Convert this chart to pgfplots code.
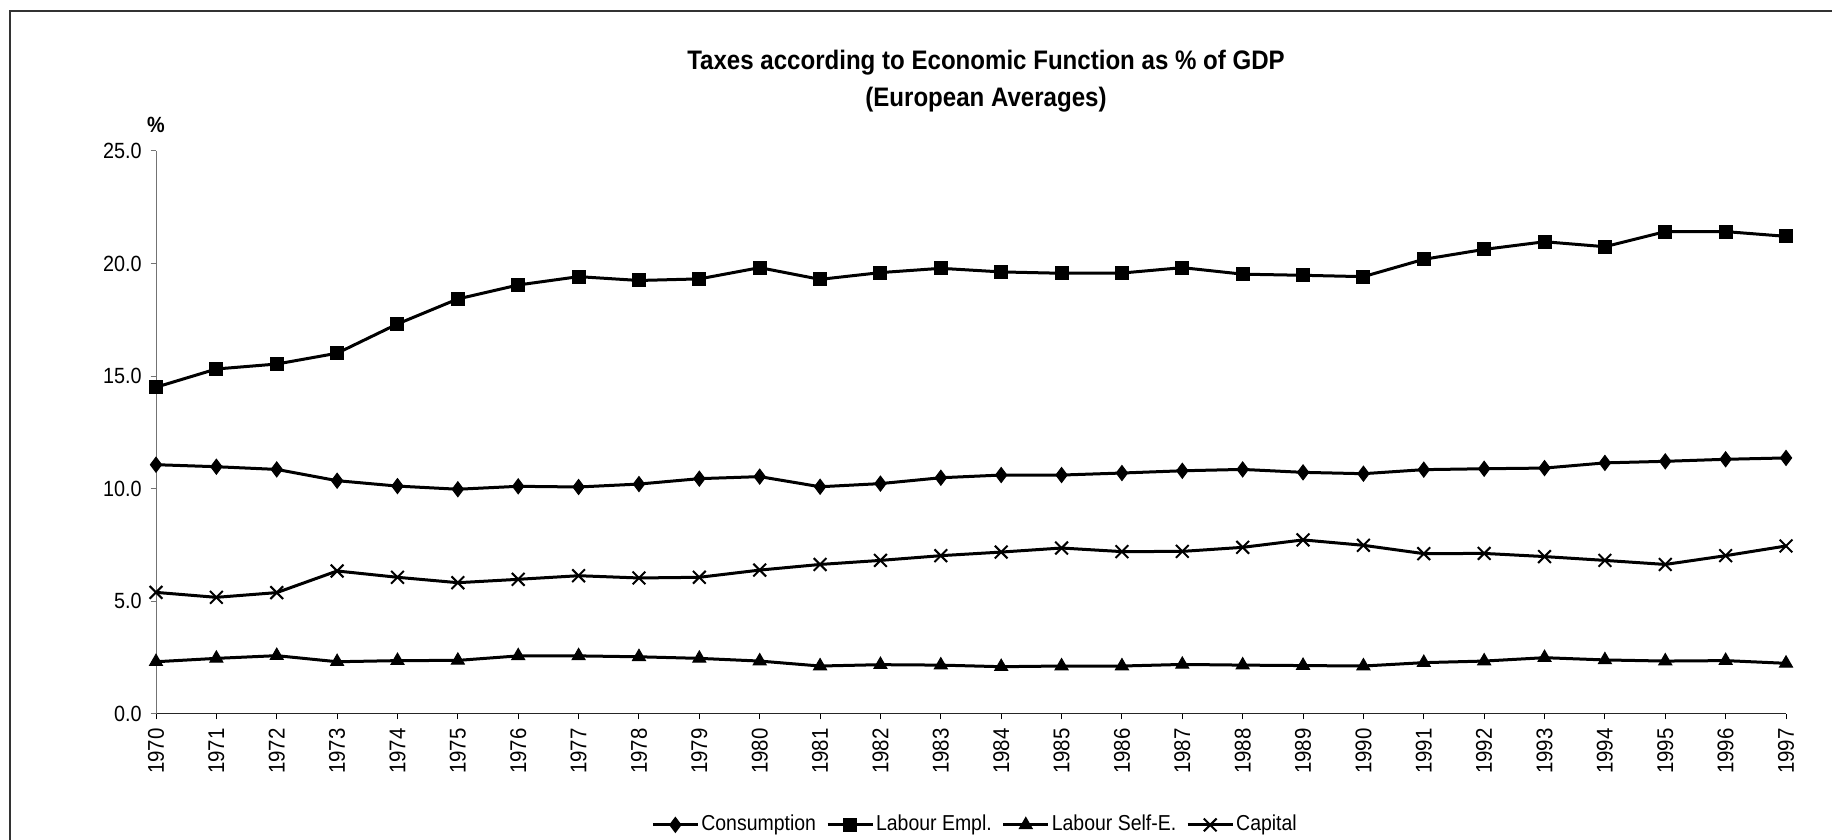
\documentclass[border=0pt]{standalone}
\usepackage{pgfplots}
\pgfplotsset{compat=1.18}
\usepackage{pgfplotstable}
\usepackage{fontspec}
\setmainfont{Liberation Sans}[FakeStretch=0.9]

\pgfplotstableread{
year cons lab self cap
1970 11.07 14.51 2.32 5.40
1971 10.98 15.32 2.47 5.18
1972 10.86 15.54 2.59 5.39
1973 10.36 16.02 2.32 6.35
1974 10.12 17.32 2.37 6.07
1975 9.98 18.43 2.38 5.83
1976 10.11 19.05 2.58 5.98
1977 10.08 19.42 2.58 6.14
1978 10.21 19.25 2.54 6.04
1979 10.45 19.32 2.47 6.07
1980 10.54 19.82 2.35 6.39
1981 10.09 19.30 2.13 6.64
1982 10.23 19.60 2.19 6.82
1983 10.49 19.79 2.17 7.03
1984 10.61 19.63 2.10 7.19
1985 10.61 19.57 2.13 7.37
1986 10.70 19.58 2.13 7.21
1987 10.80 19.82 2.20 7.22
1988 10.86 19.53 2.17 7.40
1989 10.73 19.48 2.15 7.73
1990 10.67 19.42 2.13 7.49
1991 10.85 20.19 2.28 7.12
1992 10.89 20.63 2.35 7.13
1993 10.92 20.97 2.50 6.99
1994 11.15 20.75 2.40 6.82
1995 11.22 21.42 2.35 6.64
1996 11.31 21.42 2.37 7.03
1997 11.37 21.21 2.25 7.46
}\datatable

\begin{document}
\begin{tikzpicture}
\path[use as bounding box] (0,0) rectangle (732.8pt,336pt);
% frame (cut off at right and bottom in the reference)
\draw[black!80, line width=0.5pt] (4pt,-2pt) -- (4pt,331.6pt) -- (740pt,331.6pt);
% title
\node[align=center, font=\bfseries\fontsize{10.7}{14.8}\selectfont] at (394.4pt,303.4pt)
  {Taxes according to Economic Function as \% of GDP\\(European Averages)};
\begin{axis}[
  at={(62.4pt,50.4pt)}, anchor=origin,
  scale only axis, width=652pt, height=225.2pt,
  xmin=1970, xmax=1997, ymin=0, ymax=25,
  axis x line*=bottom, axis y line*=left,
  axis line style={-, line width=0.4pt},
  x axis line style={black!85},
  y axis line style={black!55},
  tick align=outside,
  xtick={1970,1971,...,1997},
  ytick={0,5,10,15,20,25},
  xtick style={black, line width=0.4pt},
  ytick style={black!55, line width=0.4pt},
  major tick length=2.2pt,
  font=\fontsize{8.8}{10.5}\selectfont,
  /pgf/number format/assume math mode=true,
  yticklabel style={/pgf/number format/.cd, fixed, fixed zerofill, precision=1},
  xticklabel style={rotate=90, anchor=east, font=\fontsize{9.1}{10.5}\selectfont, /pgf/number format/.cd, 1000 sep={}, fixed},
  legend columns=4,
  legend style={at={(0.5025,-0.197)}, anchor=center, draw=none, fill=none,
    font=\fontsize{8.65}{10}\selectfont, inner sep=0pt,
    nodes={inner xsep=0.8pt},
    /tikz/every even column/.append style={column sep=3.2pt}},
  legend image code/.code={\draw[mark repeat=2,mark phase=2,#1] plot coordinates {(0pt,0pt) (9pt,0pt) (18pt,0pt)};},
  every axis plot/.append style={black, line width=1.2pt},
  clip=false,
]
\addplot[mark=diamond*, mark size=3pt, mark options={solid, line width=0.4pt}] table[x=year, y=cons] {\datatable};
\addlegendentry{Consumption}
\addplot[mark=square*, mark size=2.6pt, mark options={solid, line width=0.4pt}] table[x=year, y=lab] {\datatable};
\addlegendentry{Labour Empl.}
\addplot[mark=triangle*, mark size=3pt, mark options={solid, line width=0.4pt}] table[x=year, y=self] {\datatable};
\addlegendentry{Labour Self-E.}
\addplot[mark=x, mark size=3.6pt, mark options={solid, line width=0.8pt}] table[x=year, y=cap] {\datatable};
\addlegendentry{Capital}
\node[font=\bfseries\fontsize{8.8}{10.5}\selectfont] at (rel axis cs:0,1) [yshift=10.4pt] {\%};
\end{axis}
\end{tikzpicture}
\end{document}
